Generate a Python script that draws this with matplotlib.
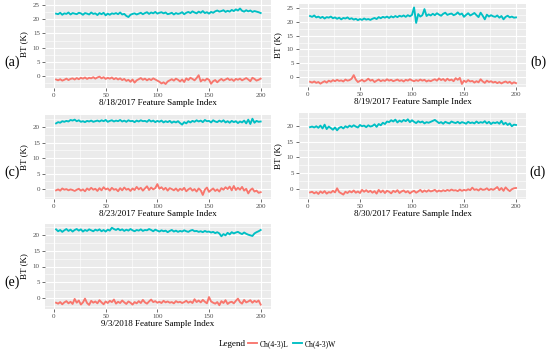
import numpy as np
import matplotlib
matplotlib.use("Agg")
import matplotlib.pyplot as plt
from matplotlib.lines import Line2D
from matplotlib.ticker import MultipleLocator

plt.rcParams['font.family'] = ['Liberation Serif', 'DejaVu Serif']

# 采样索引（每两个样本读一次）
idx = np.arange(2, 201, 2)

# 各日期的数据
dates = ["8/18/2017", "8/19/2017", "8/23/2017", "8/30/2017", "9/3/2018"]
panel_tags = ["(a)", "(b)", "(c)", "(d)", "(e)"]

a_w = [22.0, 21.8, 22.3, 21.6, 22.1, 21.9, 22.4, 21.7, 22.2, 22.0,
       21.8, 22.3, 22.1, 21.6, 22.2, 22.0, 21.7, 22.4, 21.9, 22.1,
       21.5, 22.2, 21.8, 22.3, 21.4, 22.0, 21.6, 22.1, 21.9, 22.2,
       21.8, 22.4, 21.7, 21.9, 21.2, 20.8, 21.6, 21.9, 22.1, 21.7,
       22.0, 22.3, 21.8, 22.2, 22.5, 21.9, 22.4, 22.1, 22.6, 22.0,
       22.3, 22.5, 22.1, 22.4, 21.8, 22.0, 22.3, 21.7, 22.2, 21.9,
       22.1, 22.5, 21.8, 22.3, 22.6, 22.2, 22.8, 22.4, 22.1, 22.7,
       22.3, 22.9, 22.2, 22.5, 22.0, 22.6, 22.3, 22.8, 23.1, 22.7,
       22.9, 23.2, 22.6, 23.0, 22.7, 23.3, 22.9, 23.5, 23.1, 23.8,
       23.0, 22.7, 23.2, 22.8, 23.1, 22.6, 22.9, 22.7, 22.5, 22.2]
a_l = [-1.2, -1.5, -1.1, -1.6, -1.3, -0.9, -1.4, -1.0, -0.8, -1.2,
       -0.7, -1.1, -0.6, -0.9, -0.5, -1.0, -0.6, -0.8, -0.4, -0.9,
       -0.5, -0.2, -0.8, -0.4, -1.0, -0.6, -0.9, -0.5, -1.1, -0.7,
       -1.2, -0.8, -1.4, -1.0, -1.7, -1.3, -2.0, -1.2, -2.3, -1.5,
       -1.1, -0.7, -1.3, -0.9, -1.5, -1.0, -1.4, -0.8, -1.2, -1.6,
       -2.0, -2.6, -2.2, -2.8, -1.9, -1.5, -1.1, -1.6, -0.9, -1.3,
       -1.9, -1.2, -2.1, -0.8, -1.4, -0.6, -1.0, -1.5, -0.7, 0.3,
       -1.9, -1.2, -1.6, -0.9, -1.3, -2.7, -1.8, -1.4, -2.2, -1.5,
       -1.0, -1.6, -1.2, -0.8, -1.4, -1.1, -1.7, -1.0, -1.3, -0.9,
       -1.5, -1.1, -0.7, -1.2, -1.8, -0.6, -1.0, -1.6, -1.3, -0.9]

b_w = [22.1, 21.8, 22.3, 21.6, 21.9, 21.4, 21.8, 21.2, 21.7, 21.5,
       21.9, 21.3, 21.6, 21.1, 21.5, 20.9, 21.4, 21.2, 21.6, 21.0,
       21.3, 20.8, 21.1, 20.6, 21.0, 20.7, 21.2, 20.8, 21.0, 20.7,
       21.1, 21.4, 21.0, 21.7, 21.3, 21.8, 21.5, 21.9, 21.4, 22.0,
       21.6, 22.1, 21.7, 22.2, 21.9, 22.3, 21.8, 22.4, 22.0, 22.5,
       25.2, 19.6, 22.8, 21.9, 22.4, 24.6, 22.1, 22.7, 22.3, 22.9,
       22.4, 23.1, 22.6, 22.2, 22.9, 23.3, 22.5, 22.8, 23.0, 22.4,
       22.7, 23.4, 22.6, 23.0, 21.8, 22.5, 23.1, 22.3, 22.7, 23.2,
       22.4, 21.7, 23.3, 22.2, 20.9, 22.6, 21.9, 22.4, 22.0, 21.8,
       22.3, 21.5, 22.1, 20.9, 21.8, 22.2, 21.6, 21.9, 21.5, 21.6]
b_l = [-1.7, -2.0, -1.6, -2.1, -1.8, -2.4, -1.9, -1.5, -2.0, -1.3,
       -1.7, -1.1, -1.5, -1.0, -1.4, -1.2, -1.6, -0.9, -1.3, -1.1,
       -0.6, 0.7, -0.9, -1.8, -1.4, -1.0, -1.6, -1.2, -0.6, -1.3,
       -1.0, -1.8, -1.3, -0.9, -1.5, -1.1, -1.4, -0.8, -1.3, -1.0,
       -1.5, -1.2, -0.9, -1.4, -1.1, -1.6, -1.0, -1.3, -0.8, -1.2,
       -1.5, -1.1, -1.4, -0.9, -1.3, -1.0, -1.6, -1.2, -1.5, -1.1,
       -0.8, -1.3, -0.5, -1.1, -0.7, -1.4, -0.6, -1.2, -0.9, -1.5,
       -0.4, -1.0, -0.3, -2.5, -1.3, -1.8, -1.1, -1.6, -1.4, -2.0,
       -1.5, -1.9, -0.8, -1.6, -2.1, -1.3, -1.8, -1.5, -2.0, -1.7,
       -2.2, -1.8, -2.3, -1.9, -1.6, -2.1, -1.7, -2.4, -1.9, -2.2]

c_w = [21.2, 21.6, 21.4, 21.9, 21.7, 22.0, 21.8, 22.3, 22.1, 22.4,
       21.9, 22.2, 21.7, 21.9, 21.6, 22.0, 21.8, 22.1, 21.7, 21.9,
       22.1, 21.8, 22.2, 21.9, 22.3, 21.7, 22.0, 22.2, 21.8, 22.1,
       21.9, 22.3, 21.8, 22.1, 21.7, 22.2, 21.9, 22.0, 21.6, 22.1,
       21.8, 22.2, 21.9, 22.0, 21.7, 22.3, 21.8, 22.1, 21.6, 22.0,
       21.7, 22.1, 21.5, 21.9, 21.6, 22.0, 21.4, 21.8, 21.5, 21.9,
       21.3, 20.8, 21.6, 21.2, 21.9, 21.5, 22.0, 21.7, 22.2, 21.8,
       22.1, 21.6, 22.3, 21.9, 22.0, 21.5, 22.2, 21.8, 21.6, 22.1,
       21.7, 22.2, 21.5, 21.9, 21.4, 22.0, 21.6, 21.9, 21.3, 21.8,
       21.5, 22.1, 21.2, 22.4, 21.0, 22.7, 21.4, 22.0, 21.7, 21.8]
c_l = [-0.4, -0.1, -0.5, 0.2, -0.2, 0.0, -0.4, -0.1, -0.3, -0.6,
       -0.2, 0.1, -0.5, -0.1, -0.7, 0.2, -0.3, 0.4, -0.2, 0.1,
       -0.6, 0.3, -0.4, 0.6, -0.1, 0.2, -0.5, 0.4, -0.2, 0.0,
       -0.7, 0.3, -0.4, 0.5, -0.2, 0.1, -0.6, 0.2, -0.3, 0.7,
       -0.1, 0.4, -0.5, 0.2, 0.9, -0.3, 0.5, -0.1, 0.3, 1.6,
       0.1, 0.6, -0.2, 0.4, -0.5, 0.3, 0.0, -0.4, 0.2, -0.6,
       0.1, -0.3, 0.4, -0.7, -0.1, 0.3, -0.5, 0.0, -0.8, 0.2,
       -0.4, -1.9, -0.2, 0.5, -0.9, -0.3, 0.2, -0.6, -0.1, -0.8,
       0.3, -0.2, 0.6, 0.0, 0.8, -0.4, 1.0, -0.3, 0.4, -0.2,
       0.7, -0.5, 0.1, -1.4, -0.3, 0.2, -0.8, -0.5, -1.2, -1.0]

d_w = [19.6, 19.8, 19.5, 19.9, 19.4, 20.1, 19.2, 20.4, 19.0, 19.8,
       19.3, 18.8, 19.5, 18.6, 19.4, 19.7, 19.2, 19.9, 19.5, 20.1,
       19.7, 20.2, 19.8, 19.5, 20.3, 19.9, 20.1, 19.6, 20.2, 19.8,
       20.0, 20.5, 19.7, 20.6, 20.2, 21.0, 20.6, 21.4, 21.2, 21.8,
       21.4, 22.0, 21.1, 21.7, 21.3, 21.9, 21.5, 22.1, 21.2, 21.8,
       21.3, 20.9, 21.5, 21.1, 21.4, 20.8, 21.2, 21.0, 21.3, 21.6,
       21.9, 21.4, 20.9, 21.2, 20.7, 21.3, 21.0, 20.8, 21.4, 21.1,
       20.9, 21.3, 20.8, 21.2, 21.0, 20.7, 21.3, 20.9, 21.1, 20.8,
       21.4, 20.9, 21.2, 21.0, 21.5, 20.8, 21.3, 20.6, 21.1, 20.9,
       21.2, 20.7, 21.6, 20.5, 21.0, 20.3, 20.8, 19.9, 20.4, 20.3]
d_l = [-1.1, -0.9, -1.4, -1.0, -1.6, -0.8, -1.3, -0.7, -1.5, -1.0,
       -1.2, -0.6, -1.1, 0.2, -1.0, -1.4, -1.8, -0.9, -1.3, -0.7,
       -1.1, -0.5, -1.2, -0.8, -1.3, -0.3, -0.9, -0.4, -1.0, -0.6,
       -1.2, -0.7, -1.5, -0.3, -1.1, -0.5, -1.3, -0.6, -0.9, -1.4,
       -0.6, -1.0, -0.4, -1.3, -0.8, -0.5, -1.1, -0.7, -1.4, -0.9,
       -0.6, -1.2, -0.8, -0.3, -1.0, -0.5, -0.9, -0.4, -0.8, -0.6,
       -0.3, -0.9, -0.5, -0.8, -0.4, -0.7, -0.3, -0.6, -0.2, -0.5,
       -0.4, -0.7, -0.2, -0.6, -0.3, -0.5, -0.1, -0.4, 0.4, -0.3,
       -0.1, -0.5, 0.1, -0.3, -0.2, 0.2, -0.4, 0.0, -0.3, 0.1,
       0.6, -0.4, 0.3, -0.6, 0.5, -0.2, -0.7, -0.1, 0.2, 0.3]

e_w = [21.8, 21.2, 21.6, 21.0, 21.5, 21.9, 21.3, 21.7, 21.1, 21.6,
       21.9, 21.4, 21.8, 21.1, 21.6, 21.3, 21.8, 21.5, 21.2, 21.7,
       21.4, 21.8, 21.2, 21.6, 21.1, 21.7, 21.4, 22.3, 21.9, 21.6,
       22.0, 21.5, 21.8, 21.3, 21.7, 21.4, 21.9, 21.5, 21.2, 21.6,
       21.4, 21.8, 21.3, 21.6, 21.5, 21.9, 21.6, 21.2, 21.7, 21.4,
       21.1, 21.5, 21.2, 21.4, 20.9, 21.3, 21.6, 21.1, 21.4, 21.0,
       21.3, 21.1, 21.5, 21.2, 21.0, 21.4, 21.6, 21.2, 21.3, 21.0,
       21.2, 20.9, 21.3, 21.0, 21.1, 20.8, 21.0, 20.6, 20.9, 20.5,
       19.6, 20.3, 19.9, 20.7, 20.2, 20.9, 20.5, 20.8, 21.0, 20.6,
       20.3, 20.8, 20.4, 20.1, 19.9, 19.7, 20.5, 20.9, 21.2, 21.6]
e_l = [-1.5, -1.8, -1.3, -2.0, -1.4, -1.0, -1.7, -1.2, -1.9, -0.3,
       -1.5, -0.8, -2.1, -1.4, -0.2, -1.6, -2.2, -0.9, -1.5, -1.1,
       -1.7, -0.7, -1.4, -2.0, -1.1, -1.6, -0.9, -1.3, -0.5, -1.8,
       -1.2, -1.6, -0.8, -1.4, -1.9, -1.1, -1.5, -2.1, -1.3, -1.7,
       -1.0, -1.6, -0.6, -1.4, -1.8, -1.1, -0.5, -1.3, -1.0, -1.5,
       -1.2, -1.6, -0.9, -1.4, -1.1, -1.5, -1.3, -1.7, -1.0, -1.4,
       -1.2, -1.6, -1.3, -0.9, -1.5, -1.1, -1.6, -0.4, -1.3, -0.8,
       -1.4, -0.6, -1.2, -1.7, 0.3, -1.1, -1.5, -1.8, -1.3, -2.3,
       -1.0, -1.6, -0.7, -1.9, -1.4, -1.2, -1.7, -0.9, -0.2, -1.3,
       -1.8, -0.6, -1.4, -1.1, -0.7, -1.5, -0.9, -1.3, -0.8, -2.1]

series_w = [a_w, b_w, c_w, d_w, e_w]
series_l = [a_l, b_l, c_l, d_l, e_l]

# 每个面板的像素框 (left, right, top, bottom) 和 y 轴范围
W, H = 550, 353
boxes = [(44.7, 271, 0, 88), (298.6, 526.4, 4, 87),
         (44.7, 271, 115, 199), (298.6, 526.4, 113, 199),
         (44.7, 271, 224, 309)]
ylims = [(-4.2, 26.8), (-3.6, 26.45), (-3.2, 23.9), (-3.2, 24.1), (-3.5, 23.5)]
ymax_tick = [25, 25, 20, 20, 20]
tag_pos = [(12, 62), (538, 62), (12, 172), (538, 172), (12, 282)]

COL_L = '#F8766D'
COL_W = '#00BFC4'
LW = 1.35

fig = plt.figure(figsize=(5.5, 3.53), dpi=100)

for i in range(5):
    l, r, t, b = boxes[i]
    ax = fig.add_axes([l / W, 1 - b / H, (r - l) / W, (b - t) / H])
    ax.set_facecolor('#EBEBEB')
    for s in ax.spines.values():
        s.set_visible(False)
    ax.plot(idx, series_l[i], color=COL_L, lw=LW)
    ax.plot(idx, series_w[i], color=COL_W, lw=LW)
    ax.set_xlim(-9, 210)
    ax.set_ylim(*ylims[i])
    ax.set_xticks([0, 50, 100, 150, 200])
    ax.set_yticks(np.arange(0, ymax_tick[i] + 1, 5))
    ax.xaxis.set_minor_locator(MultipleLocator(25))
    ax.yaxis.set_minor_locator(MultipleLocator(2.5))
    ax.grid(which='major', color='white', lw=0.8)
    ax.grid(which='minor', color='white', lw=0.4)
    ax.set_axisbelow(True)
    ax.tick_params(which='major', length=2, width=0.5, color='#333333',
                   labelsize=5, labelcolor='#4D4D4D', pad=1.5)
    ax.tick_params(which='minor', length=0)
    ax.set_xlabel(dates[i] + " Feature Sample Index", fontsize=6.5, labelpad=1)
    ax.set_ylabel("BT (K)", fontsize=6.5, labelpad=3)

    tx, ty = tag_pos[i]
    fig.text(tx / W, 1 - ty / H, panel_tags[i], fontsize=10,
             ha='center', va='center')

# 图例
fig.text(232 / W, 1 - 344 / H, "Legend", fontsize=6.5, ha='center', va='center')
handles = [Line2D([], [], color=COL_L, lw=LW), Line2D([], [], color=COL_W, lw=LW)]
leg = fig.legend(handles, ["Ch(4-3)L", "Ch(4-3)W"], ncol=2, frameon=False,
                 loc='center left', bbox_to_anchor=(248 / W, 1 - 344 / H),
                 fontsize=5.5, handlelength=1.2, handletextpad=0.35,
                 columnspacing=0.6, borderpad=0, borderaxespad=0)

fig.savefig("out.png", dpi=100)
